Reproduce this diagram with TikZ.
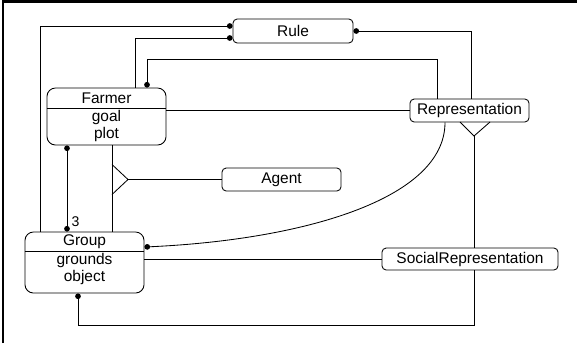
\documentclass[tikz,border=0pt]{standalone}
\usepackage{fontspec}
\setmainfont{Liberation Sans}
\usetikzlibrary{arrows.meta,calc}

\tikzset{
  ball/.tip={Circle[length=4pt]},
  box/.style={draw, rounded corners=3pt, minimum width=2.975cm, minimum height=0.575cm, inner sep=0pt},
  classbox/.style={box, rounded corners=6pt},
  classtitle/.style={anchor=north, inner sep=0pt},
  classattr/.style={anchor=north, align=center, inner sep=1pt}
}

\begin{document}
\begin{tikzpicture}[x=0.025cm, y=-0.025cm, line width=0.6pt, font=\fontsize{11}{12}\selectfont]
		\useasboundingbox (0,0) rectangle (577,343);
		% frame
		\draw[line width=2.1pt] (3,343) -- (3,1.5) -- (577,1.5);

		% classes with attributes
		\node[classbox, minimum height=1.425cm] (farmer) at (106.5,116.5) {};
		\node[classtitle, minimum height=0.5cm] (farmertitle) at (farmer.north) {Farmer};
		\draw (farmer.west |- farmertitle.south) -- (farmer.east |- farmertitle.south);
		\node[classattr] (farmerattr) at (farmertitle.south) {goal\\plot};

		\node[classbox, minimum height=1.525cm] (group) at (84.5,262.5) {};
		\node[classtitle, minimum height=0.475cm] (grouptitle) at (group.north) {Group};
		\draw (group.west |- grouptitle.south) -- (group.east |- grouptitle.south);
		\node[classattr] (groupattr) at (grouptitle.south) {grounds\\object};

		% plain classes
		\node[box, minimum width=3cm, minimum height=0.6cm] (rule) at (293,31) {Rule};
		\node[box] (repr) at (469.5,110.5) {Representation};
		\node[box] (agent) at (281.5,179.5) {Agent};
		\node[box, minimum width=4.4cm, minimum height=0.55cm] (socrep) at (470,259) {SocialRepresentation};

		% routing
		\coordinate (xa) at (40,0);
		\coordinate (xb) at (135,0);
		\coordinate (xc) at (147,0);
		\coordinate (xd) at (437,0);
		\coordinate (xe) at (471,0);
		\coordinate (xf) at (67,0);
		\coordinate (xg) at (112,0);
		\coordinate (xh) at (474,0);
		\coordinate (xk) at (78,0);
		\coordinate (xr) at (445,0);
		\coordinate (inhagent) at (128,179.5);
		\coordinate (inhrepr) at (474,136);

		\draw[-ball] (group.north -| xa) |- ($(rule.west)+(0,-5)$);
		\draw[-ball] (farmer.north -| xb) |- ($(rule.west)+(0,7)$);
		\draw[ball-] (farmer.north -| xc) -- ++(0,-28) -| (repr.north -| xd);
		\draw[ball-] (rule.east) -| (repr.north -| xe);
		\draw (farmer.east |- repr.west) -- (repr.west);

		\draw[ball-ball] (farmer.south -| xf) -- (group.north -| xf)
			node[pos=1, above right, inner sep=1pt, xshift=2pt, yshift=2pt, font=\fontsize{10}{11}\selectfont] (mult) {3};

		% inheritance
		\draw (farmer.south -| xg) -- (group.north -| xg);
		\draw ($(inhagent)+(-16,-15)$) -- (inhagent) -- ($(inhagent)+(-16,15)$);
		\draw (inhagent) -- (agent.west);
		\draw ($(inhrepr)+(-14,-14)$) -- (inhrepr) -- ($(inhrepr)+(16,-14)$);
		\draw (inhrepr) -- (socrep.north -| inhrepr);

		\draw[ball-] ($(group.east)+(0,-15.5)$) .. controls (300,240) and (445,200) .. (repr.south -| xr);
		\draw (socrep.west -| group.east) -- (socrep.west);
		\draw[-ball] (socrep.south -| xh) -- ++(0,55) -| (group.south -| xk);
	\end{tikzpicture}
\end{document}
